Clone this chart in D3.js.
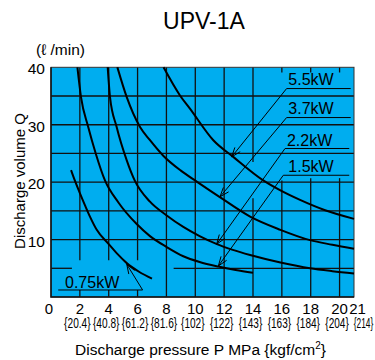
<!DOCTYPE html>
<html><head><meta charset="utf-8">
<script src="https://cdn.jsdelivr.net/npm/d3@7"></script>
<style>html,body{margin:0;padding:0;background:#fff;} svg{display:block;}</style>
</head><body>
<svg id="chart" width="375" height="360"></svg>
<script>
// ---- data ----
const chartTitle = "UPV-1A";
const yUnitLabel = "(ℓ /min)";
const yAxisTitle = "Discharge volume Q";
const xAxisTitle = "Discharge pressure P MPa {kgf/cm";
const xTickValues = [0, 2, 4, 6, 8, 10, 12, 14, 16, 18, 20, 21];
const xTickSubLabels = ["", "{20.4}", "{40.8}", "{61.2}", "{81.6}", "{102}", "{122}", "{143}", "{163}", "{184}", "{204}", "{214}"];
const yTickValues = [10, 20, 30, 40];
const seriesNames = ["0.75kW", "1.5kW", "2.2kW", "3.7kW", "5.5kW"];
const q075 = [[1.39,22.1],[1.65,20.3],[1.95,18.4],[2.35,16.0],[2.7,14.0],[3.17,11.7],[3.97,9.3],[4.6,7.5],[5.25,5.9],[6.1,4.4],[7.0,3.2]];
const q150 = [[1.83,40],[2.08,34.8],[2.58,29.6],[3.1,25.0],[3.74,20.3],[4.66,16.5],[5.94,12.7],[6.86,10.6],[8.02,8.7],[9.17,7.1],[10.3,6.1],[11.6,5.3],[12.8,4.7],[14.0,4.2]];
const q220 = [[3.93,40],[4.09,34.8],[4.55,29.6],[5.25,23.8],[5.8,20.3],[6.86,16.6],[8.02,14.2],[9.17,12.2],[10.3,10.6],[11.5,9.2],[12.6,8.2],[13.8,7.3],[15.9,6.0],[17.95,5.0],[19.5,4.5],[21,4.1]];
const q370 = [[4.6,40],[5.25,34.8],[6.17,29.6],[6.86,27.3],[7.78,24.6],[9.0,22.0],[10.1,20.1],[11.7,17.4],[13.8,14.0],[15.9,11.7],[17.95,9.9],[19.5,9.1],[21,8.4]];
const q550 = [[7.8,40],[8.94,35.1],[9.63,32.8],[11.25,27.3],[12.63,24.4],[14.71,20.3],[15.87,18.6],[17.26,16.9],[19.0,15.1],[21,13.6]];
const seriesValues = [q075, q150, q220, q370, q550];
// leader annotations (data units): text anchor, elbow, line end, arrow tip
const labelText = [16.45, 16.45, 16.35, 16.45, 0.97];
const labelQ = [36.85, 31.8, 26.3, 21.7, 1.55];
const elbowP = [16.33, 16.33, 16.22, 16.1, 6.35];
const elbowQ = [36.3, 31.25, 25.86, 21.2, 1.22];
const lineEndP = [20.77, 20.77, 20.67, 20.67, 0.5];
const tipP = [12.52, 11.71, 11.48, 11.6, 5.25];
const tipQ = [24.4, 17.44, 9.2, 5.4, 5.7];
const annoOrder = ["5.5kW", "3.7kW", "2.2kW", "1.5kW", "0.75kW"];
// grid (data units), with the gaps seen in the original
const gridV = [
  {p:2, segs:[[6.4,40],[0,1.2]]},{p:4, segs:[[6.4,40],[0,1.2]]},{p:6, segs:[[6.4,40],[0,1.2]]},
  {p:8, segs:[[0,40]]},{p:10, segs:[[0,40]]},{p:12, segs:[[0,40]]},
  {p:14, segs:[[23.5,40],[0,17.2]]},{p:16, segs:[[39.1,40],[0,20.3]]},
  {p:18, segs:[[39.1,40],[0,20.7]]},{p:20, segs:[[39.1,40],[0,20.7]]}
];
const gridH = [
  {q:5, segs:[[0,1.45],[8.5,21]]},{q:10, segs:[[0,21]]},{q:15, segs:[[0,21]]},{q:20, segs:[[0,21]]},
  {q:25, segs:[[0,21]]},{q:30, segs:[[0,21]]},{q:35, segs:[[0,21]]}
];

// ---- drawing ----
const svg = d3.select("#chart");
const font = "'Liberation Sans', Arial, Helvetica, sans-serif";
const x = d3.scaleLinear().domain([0, 21]).range([51, 354]);
const y = d3.scaleLinear().domain([0, 40]).range([297, 67.3]);

svg.append("rect").attr("x", x(0)).attr("y", y(40)).attr("width", x(21) - x(0)).attr("height", y(0) - y(40))
  .attr("fill", "#00adef");

const g = svg.append("g");
gridV.forEach(d => d.segs.forEach(s => {
  g.append("line").attr("x1", x(d.p)).attr("x2", x(d.p)).attr("y1", y(s[0])).attr("y2", y(s[1]))
    .attr("stroke", "#111").attr("stroke-width", 1.3);
}));
gridH.forEach(d => d.segs.forEach(s => {
  g.append("line").attr("y1", y(d.q)).attr("y2", y(d.q)).attr("x1", x(s[0])).attr("x2", x(s[1]))
    .attr("stroke", "#111").attr("stroke-width", 1.3);
}));

// frame
svg.append("rect").attr("x", x(0)).attr("y", y(40)).attr("width", x(21) - x(0)).attr("height", y(0) - y(40))
  .attr("fill", "none").attr("stroke", "#333").attr("stroke-width", 1);
svg.append("path").attr("d", `M${x(0)},${y(40)}V${y(0)}H${x(21)}`).attr("fill", "none").attr("stroke", "#111").attr("stroke-width", 1.5);

// curves
const line = d3.line().x(d => x(d[0])).y(d => y(d[1])).curve(d3.curveMonotoneX);
seriesValues.forEach(v => {
  svg.append("path").attr("d", line(v)).attr("fill", "none").attr("stroke", "#000").attr("stroke-width", 2);
});

// annotations
annoOrder.forEach((name, i) => {
  const ex = x(elbowP[i]), ey = y(elbowQ[i]);
  const tx = x(tipP[i]), ty = y(tipQ[i]);
  svg.append("path").attr("d", `M${x(lineEndP[i])},${ey}H${ex}L${tx},${ty}`)
    .attr("fill", "none").attr("stroke", "#000").attr("stroke-width", 1);
  const dx = ex - tx, dy = ey - ty, len = Math.hypot(dx, dy);
  const ux = dx / len, uy = dy / len;
  const a = 20 * Math.PI / 180, L = 10;
  [a, -a].forEach(t => {
    const rx = ux * Math.cos(t) - uy * Math.sin(t), ry = ux * Math.sin(t) + uy * Math.cos(t);
    svg.append("line").attr("x1", tx).attr("y1", ty).attr("x2", tx + rx * L).attr("y2", ty + ry * L)
      .attr("stroke", "#000").attr("stroke-width", 1);
  });
  svg.append("text").attr("x", x(labelText[i])).attr("y", y(labelQ[i])).text(name)
    .attr("font-family", font).attr("font-size", 16).attr("fill", "#000");
});

// y ticks
yTickValues.forEach(v => {
  svg.append("text").attr("x", 45).attr("y", y(v) + 1.5).attr("dy", "0.35em").attr("text-anchor", "end")
    .attr("font-family", font).attr("font-size", 15.5).text(v);
});
// x ticks
xTickValues.forEach((v, i) => {
  const off = v === 0 ? -2 : (v === 21 ? 3.5 : 0);
  svg.append("text").attr("x", x(v) + off).attr("y", 313.5).attr("text-anchor", "middle")
    .attr("font-family", font).attr("font-size", 15).text(v);
  const sub = xTickSubLabels[i];
  if (sub) {
    const w = sub.length > 5 ? 26.5 : (v === 21 ? 19.5 : 23.5);
    const cx = v === 21 ? x(v) + 9.5 : x(v) - 2.5;
    const t = svg.append("text").attr("text-anchor", "middle")
      .attr("font-family", font).attr("font-size", 14).text(sub);
    const natural = t.node().getComputedTextLength();
    t.attr("transform", `translate(${cx},327.5) scale(${w / natural},1)`);
  }
});

// titles
svg.append("text").attr("x", 204).attr("y", 29.3).attr("text-anchor", "middle")
  .attr("font-family", font).attr("font-size", 23).text(chartTitle);
svg.append("text").attr("x", 36).attr("y", 55).attr("font-family", font).attr("font-size", 15.5).text(yUnitLabel);
svg.append("text").attr("transform", "translate(25,181) rotate(-90)").attr("text-anchor", "middle")
  .attr("font-family", font).attr("font-size", 15).text(yAxisTitle);
const xt = svg.append("text").attr("x", 200.5).attr("y", 355).attr("text-anchor", "middle")
  .attr("font-family", font).attr("font-size", 15.5);
xt.append("tspan").text(xAxisTitle);
xt.append("tspan").attr("dy", -6).attr("font-size", 10).text("2");
xt.append("tspan").attr("dy", 6).text("}");
</script>
</body></html>
